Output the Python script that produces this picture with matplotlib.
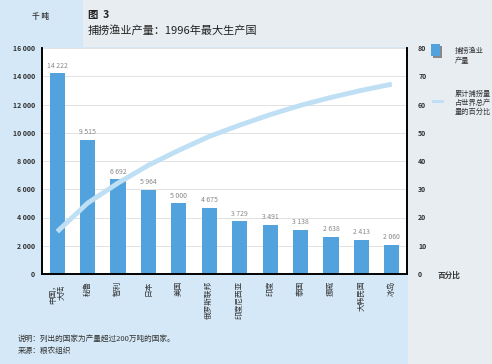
import matplotlib
matplotlib.use("Agg")
import matplotlib.pyplot as plt
from matplotlib.patches import Rectangle

plt.rcParams['font.family'] = ['Noto Sans CJK SC', 'DejaVu Sans']

paises = ["中国，\n大陆", "秘鲁", "智利", "日本", "美国", "俄罗斯联邦",
          "印度尼西亚", "印度", "泰国", "挪威", "大韩民国", "冰岛"]
producao = [14222, 9515, 6692, 5964, 5000, 4675, 3729, 3491, 3138, 2638, 2413, 2060]
rotulos = ["14 222", "9 515", "6 692", "5 964", "5 000", "4 675",
           "3 729", "3 491", "3 138", "2 638", "2 413", "2 060"]
percentual = [15.0, 25.1, 32.2, 38.5, 43.8, 48.7, 52.7, 56.4, 59.7, 62.5, 65.0, 67.2]

azul_barra = "#52a3dd"
azul_linha = "#bfdff4"
fundo = "#d4e8f7"
cinza = "#e8edf1"

fig = plt.figure(figsize=(4.92, 3.64), dpi=100)
fig.patch.set_facecolor(fundo)
fig.patches.append(Rectangle((408/492, 0), 1, 1, transform=fig.transFigure,
                             facecolor=cinza, edgecolor="none", zorder=-1))
fig.patches.append(Rectangle((83/492, 1 - 47/364), 1, 47/364, transform=fig.transFigure,
                             facecolor=cinza, edgecolor="none", zorder=-1))

ax = fig.add_axes([42/492, 90/364, 365/492, 226/364])
ax.set_facecolor("white")
x = range(len(paises))
ax.bar(x, producao, width=0.5, color=azul_barra, zorder=2)
for i, v in enumerate(producao):
    ax.text(i, v + 250, rotulos[i], ha="center", va="bottom", fontsize=5, color="#888888")

ax.set_xlim(-0.5, 11.5)
ax.set_ylim(0, 16000)
ax.set_yticks(range(0, 16001, 2000))
ax.set_yticklabels(["0" if t == 0 else "{:,}".format(t).replace(",", " ") for t in range(0, 16001, 2000)],
                   fontsize=5, fontweight="bold", color="#333333")
ax.yaxis.grid(True, color="#dddddd", linewidth=0.6, zorder=0)
ax.set_xticks(list(x))
ax.set_xticklabels(paises, rotation=90, fontsize=5.5, color="#333333", linespacing=1.0)
ax.tick_params(length=0, pad=5)
for s in ["left", "bottom", "right"]:
    ax.spines[s].set_linewidth(1.2)
ax.spines["top"].set_visible(False)

ax2 = ax.twinx()
ax2.plot(list(x), percentual, color=azul_linha, linewidth=3.5, solid_capstyle="butt", zorder=3)
ax2.set_ylim(0, 80)
ax2.set_yticks(range(0, 81, 10))
ax2.set_yticklabels([str(t) for t in range(0, 81, 10)], fontsize=5, fontweight="bold", color="#333333")
ax2.tick_params(length=0, pad=8)
for s in ["left", "bottom", "right"]:
    ax2.spines[s].set_linewidth(1.2)
ax2.spines["top"].set_visible(False)

# titulos
fig.text(40/492, 1 - 17/364, "千 吨", fontsize=5.5, fontweight="bold", color="#444444", ha="center", va="center")
fig.text(88/492, 1 - 15/364, "图  3", fontsize=7.5, fontweight="bold", color="#222222", va="center")
fig.text(88/492, 1 - 30/364, "捕捞渔业产量：1996年最大生产国", fontsize=8, color="#222222", va="center")
fig.text(438/492, 1 - 275/364, "百分比", fontsize=5.5, fontweight="bold", color="#333333", va="center")

# legenda
fig.patches.append(Rectangle((433/492, 1 - 58/364), 9/492, 12/364, transform=fig.transFigure,
                             facecolor="#888888", edgecolor="none"))
fig.patches.append(Rectangle((431/492, 1 - 56/364), 9/492, 12/364, transform=fig.transFigure,
                             facecolor=azul_barra, edgecolor="none"))
fig.text(455/492, 1 - 56/364, "捕捞渔业\n产量", fontsize=5.2, color="#333333", va="center", linespacing=1.2)
fig.patches.append(Rectangle((432/492, 1 - 103/364), 12/492, 3/364, transform=fig.transFigure,
                             facecolor=azul_linha, edgecolor="none"))
fig.text(455/492, 1 - 103/364, "累计捕捞量\n占世界总产\n量的百分比", fontsize=5.2, color="#333333",
         va="center", linespacing=1.2)

# notas
fig.text(18/492, 1 - 339/364, "说明：列出的国家为产量超过200万吨的国家。", fontsize=5.5, color="#333333", va="center")
fig.text(18/492, 1 - 351/364, "来源：粮农组织", fontsize=5.5, color="#333333", va="center")

fig.savefig("out.png", dpi=100, facecolor=fig.get_facecolor())
